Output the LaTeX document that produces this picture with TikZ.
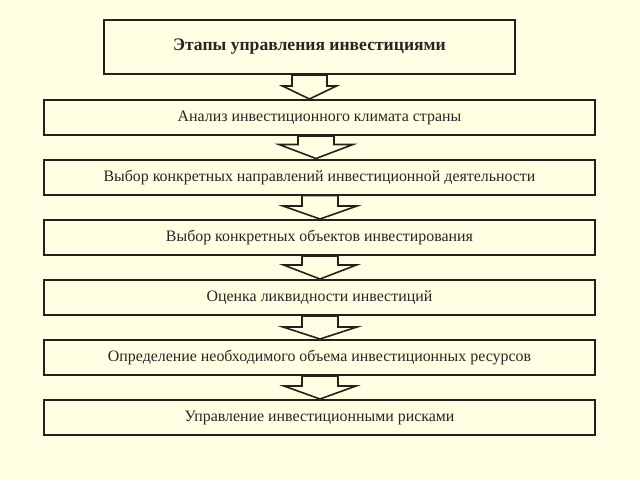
\documentclass[tikz,border=0pt]{standalone}
\usepackage{fontspec}
\setmainfont{Liberation Serif}
\usetikzlibrary{calc}
\definecolor{bgc}{RGB}{255,254,226}
\definecolor{linec}{RGB}{34,34,28}
\tikzset{
  stagebox/.style={draw=linec, line width=2pt, fill=bgc, rectangle, inner sep=0pt,
    minimum width=551pt, minimum height=35pt, text=black!85,
    font=\fontsize{15.9}{18}\selectfont},
  titlebox/.style={stagebox, minimum width=411pt, minimum height=54pt,
    font=\fontsize{17.6}{20}\selectfont\bfseries},
  blk/.style={draw=linec, line width=1.6pt, fill=bgc, line join=miter}
}
\newcommand\blockarr[6]{% A, B, dx, shaft half width, head half width, head length
  \draw[blk] ($(#1.south)+(#3-#4,0)$) -- ($(#1.south)+(#3+#4,0)$)
    -- ($(#1.south |- #2.north)+(#3+#4,-#6)$) -- ($(#1.south |- #2.north)+(#3+#5,-#6)$)
    -- ($(#1.south |- #2.north)+(#3,0)$) -- ($(#1.south |- #2.north)+(#3-#5,-#6)$)
    -- ($(#1.south |- #2.north)+(#3-#4,-#6)$) -- cycle;}
\begin{document}
\begin{tikzpicture}[x=1pt,y=-1pt]
\fill[bgc] (0,0) rectangle (640,480);
\useasboundingbox (0,0) rectangle (640,480);
\node[titlebox] (b0) at (309.5,47) {Этапы управления инвестициями};
\node[stagebox] (b1) at (319.5,117.5) {Анализ инвестиционного климата страны};
\node[stagebox] (b2) at (319.5,177) {Выбор конкретных направлений инвестиционной деятельности};
\node[stagebox] (b3) at (319.5,237.5) {Выбор конкретных объектов инвестирования};
\node[stagebox] (b4) at (319.5,297.5) {Оценка ликвидности инвестиций};
\node[stagebox] (b5) at (319.5,357.5) {Определение необходимого объема инвестиционных ресурсов};
\node[stagebox] (b6) at (319.5,417.5) {Управление инвестиционными рисками};
\blockarr{b0}{b1}{0}{17.5}{27}{13}
\blockarr{b1}{b2}{-3.5}{18}{37}{14}
\blockarr{b2}{b3}{0.5}{18}{37}{13}
\blockarr{b3}{b4}{0.5}{18}{36.5}{14}
\blockarr{b4}{b5}{0.5}{18}{37}{12}
\blockarr{b5}{b6}{0.5}{18}{36}{13}
\end{tikzpicture}
\end{document}
